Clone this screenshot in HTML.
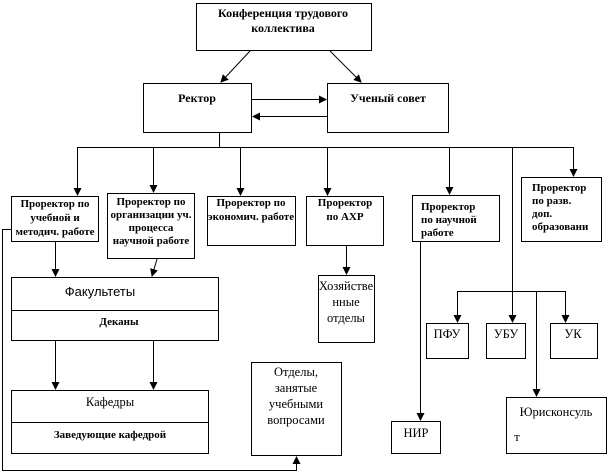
<!DOCTYPE html>
<html><head><meta charset="utf-8"><style>
html,body{margin:0;padding:0;background:#fff;}
svg{display:block;}
text{font-family:"Liberation Serif","DejaVu Serif",serif;fill:#000;}
.b{font-weight:bold;font-size:11px;}
.h{font-weight:bold;font-size:12px;}
.n{font-size:12.5px;}
</style></head><body>
<svg width="612" height="472" viewBox="0 0 612 472" xmlns="http://www.w3.org/2000/svg">
<defs><marker id="a" markerWidth="8" markerHeight="8" refX="7" refY="4" orient="auto" markerUnits="userSpaceOnUse"><path d="M0,0 L8,4 L0,8 z" fill="#000"/></marker></defs>
<g fill="#fff" stroke="#000" stroke-width="1">
<rect x="196.5" y="3.5" width="175" height="47"/>
<rect x="143.5" y="83.5" width="108" height="49"/>
<rect x="327.5" y="83.5" width="121" height="49"/>
<rect x="11.5" y="196.5" width="87" height="45"/>
<rect x="107.5" y="193.5" width="87" height="65"/>
<rect x="207.5" y="196.5" width="88" height="49"/>
<rect x="306.5" y="196.5" width="77" height="49"/>
<rect x="412.5" y="195.5" width="87" height="46"/>
<rect x="521.5" y="177.5" width="80" height="64"/>
<rect x="11.5" y="277.5" width="207" height="63"/>
<rect x="11.5" y="390.5" width="197" height="63"/>
<rect x="318.5" y="275.5" width="56" height="67"/>
<rect x="251.5" y="362.5" width="90" height="93"/>
<rect x="426.5" y="323.5" width="42" height="35"/>
<rect x="486.5" y="323.5" width="39" height="35"/>
<rect x="550.5" y="323.5" width="47" height="35"/>
<rect x="391.5" y="421.5" width="49" height="32"/>
<rect x="506.5" y="397.5" width="100" height="56"/>
</g>
<g stroke="#000" stroke-width="1" fill="none">
<line x1="11" y1="310.5" x2="218" y2="310.5"/>
<line x1="11" y1="422.5" x2="208" y2="422.5"/>
<line x1="250" y1="51" x2="221" y2="82" marker-end="url(#a)"/>
<line x1="330" y1="51" x2="361" y2="82" marker-end="url(#a)"/>
<line x1="252" y1="99.5" x2="326" y2="99.5" marker-end="url(#a)"/>
<line x1="327" y1="116.5" x2="253" y2="116.5" marker-end="url(#a)"/>
<line x1="219.5" y1="133" x2="219.5" y2="147"/>
<line x1="77" y1="147.5" x2="574" y2="147.5"/>
<line x1="77.5" y1="147" x2="77.5" y2="195" marker-end="url(#a)"/>
<line x1="153.5" y1="147" x2="153.5" y2="192" marker-end="url(#a)"/>
<line x1="240.5" y1="147" x2="240.5" y2="195" marker-end="url(#a)"/>
<line x1="327.5" y1="147" x2="327.5" y2="195" marker-end="url(#a)"/>
<line x1="449.5" y1="147" x2="449.5" y2="194" marker-end="url(#a)"/>
<line x1="573.5" y1="147" x2="573.5" y2="176" marker-end="url(#a)"/>
<line x1="512.5" y1="148" x2="512.5" y2="322" marker-end="url(#a)"/>
<line x1="457" y1="291.5" x2="566" y2="291.5"/>
<line x1="457.5" y1="291" x2="457.5" y2="322" marker-end="url(#a)"/>
<line x1="565.5" y1="291" x2="565.5" y2="322" marker-end="url(#a)"/>
<line x1="536.5" y1="291" x2="536.5" y2="396" marker-end="url(#a)"/>
<line x1="420.5" y1="242" x2="420.5" y2="420" marker-end="url(#a)"/>
<line x1="346.5" y1="246" x2="346.5" y2="274" marker-end="url(#a)"/>
<line x1="55.5" y1="242" x2="55.5" y2="276" marker-end="url(#a)"/>
<line x1="157" y1="259" x2="152" y2="276" marker-end="url(#a)"/>
<line x1="55.5" y1="341" x2="55.5" y2="389" marker-end="url(#a)"/>
<line x1="153.5" y1="341" x2="153.5" y2="389" marker-end="url(#a)"/>
<polyline points="11,229.5 2.5,229.5 2.5,470.5 296.5,470.5 296.5,457" marker-end="url(#a)"/>
</g>
<g class="h" text-anchor="middle">
<text x="283" y="17">Конференция  трудового</text>
<text x="283" y="32">коллектива</text>
<text x="197" y="102">Ректор</text>
<text x="388" y="102">Ученый совет</text>
</g>
<g class="b" text-anchor="middle">
<text x="55" y="207">Проректор по</text>
<text x="55" y="221">учебной и</text>
<text x="55" y="235">методич. работе</text>
<text x="151" y="205">Проректор по</text>
<text x="151" y="218">организации уч.</text>
<text x="151" y="231">процесса</text>
<text x="151" y="244">научной работе</text>
<text x="251" y="206">Проректор по</text>
<text x="251" y="220">экономич. работе</text>
<text x="345" y="206">Проректор</text>
<text x="345" y="220">по АХР</text>
<text x="119" y="325">Деканы</text>
<text x="110" y="438">Заведующие  кафедрой</text>
</g>
<g class="b">
<text x="421" y="210">Проректор</text>
<text x="421" y="223">по научной</text>
<text x="421" y="236">работе</text>
<text x="532" y="191">Проректор</text>
<text x="532" y="204">по разв.</text>
<text x="532" y="217">доп.</text>
<text x="532" y="230">образовани</text>
</g>
<g class="n" text-anchor="middle">
<text x="100" y="296" style="font-family:'Liberation Sans',sans-serif;font-size:13px">Факультеты</text>
<text x="110" y="406">Кафедры</text>
<text x="346" y="290">Хозяйстве</text>
<text x="346" y="306">нные</text>
<text x="346" y="322">отделы</text>
<text x="296" y="376">Отделы,</text>
<text x="296" y="392">занятые</text>
<text x="296" y="408">учебными</text>
<text x="296" y="424">вопросами</text>
<text x="447" y="338">ПФУ</text>
<text x="506" y="338">УБУ</text>
<text x="573" y="338">УК</text>
<text x="416" y="437">НИР</text>
<text x="556" y="416">Юрисконсуль</text>
<text x="517" y="441">т</text>
</g>
</svg>
</body></html>
